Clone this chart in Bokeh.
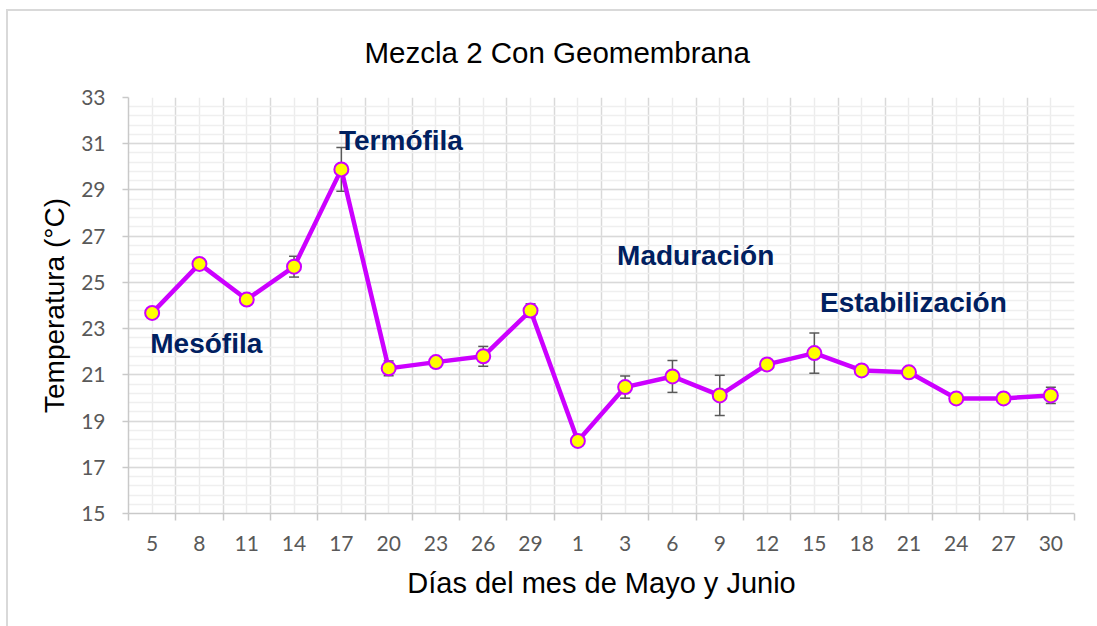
import numpy as np
from bokeh.plotting import figure
from bokeh.models import ColumnDataSource, FixedTicker, Range1d, Whisker, TeeHead
from bokeh.core.properties import value
from bokeh.embed import file_html
from bokeh.resources import INLINE

# ---------------- data ----------------
dias = ["5", "8", "11", "14", "17", "20", "23", "26", "29", "1",
        "3", "6", "9", "12", "15", "18", "21", "24", "27", "30"]
temperatura = [23.68, 25.80, 24.26, 25.68, 29.89, 21.28, 21.55, 21.80, 23.78, 18.14,
               20.47, 20.93, 20.11, 21.45, 21.94, 21.19, 21.11, 19.98, 19.98, 20.11]
error = [0.0, 0.0, 0.0, 0.45, 0.95, 0.32, 0.0, 0.43, 0.29, 0.0,
         0.48, 0.69, 0.87, 0.0, 0.87, 0.0, 0.2, 0.0, 0.0, 0.35]
fases = ["Mesófila", "Termófila", "Maduración", "Estabilización"]
y_ticks = [15, 17, 19, 21, 23, 25, 27, 29, 31, 33]

titulo = "Mezcla 2 Con Geomembrana"
x_label = "Días del mes de Mayo y Junio"
y_label = "Temperatura (°C)"

# ---------------- derived ----------------
n = len(dias)
xc = [i + 0.5 for i in range(n)]          # category centres
bounds = list(range(n + 1))               # category boundaries

src = ColumnDataSource(dict(x=xc, y=temperatura))
ex = [xc[i] for i in range(n) if error[i] > 0]
ey = [temperatura[i] for i in range(n) if error[i] > 0]
ee = [error[i] for i in range(n) if error[i] > 0]
esrc = ColumnDataSource(dict(x=ex,
                             upper=[a + b for a, b in zip(ey, ee)],
                             lower=[a - b for a, b in zip(ey, ee)]))

W, H = 1097, 626
p = figure(width=W, height=H, x_range=Range1d(0, n), y_range=Range1d(15, 33),
           output_backend="svg", toolbar_location=None,
           min_border_left=128, min_border_top=97,
           min_border_right=23, min_border_bottom=113)
p.outline_line_color = None
p.background_fill_color = "white"
p.border_fill_color = None
p.styles = {
    "background": ("linear-gradient(#d9d9d9, #d9d9d9) 6px 9px / 2px 100% no-repeat, "
                   "linear-gradient(#d9d9d9, #d9d9d9) 6px 9px / 100% 2px no-repeat, white"),
}

# title
p.title.text = titulo
p.title.align = "left"
p.title.offset = 236
p.title.text_font = "Liberation Sans"
p.title.text_font_style = "normal"
p.title.text_font_size = "29.5px"
p.title.text_color = "#000000"
p.title.standoff = 58

# x axis
xt = FixedTicker(ticks=xc, minor_ticks=bounds)
xa = p.xaxis[0]
xa.ticker = xt
xa.major_label_overrides = {c: d for c, d in zip(xc, dias)}
xa.major_tick_line_color = None
xa.major_tick_out = 0
xa.major_tick_in = 0
xa.minor_tick_line_color = "#c9c9c9"
xa.minor_tick_line_width = 1.5
xa.minor_tick_out = 7
xa.minor_tick_in = 0
xa.axis_line_color = "#c9c9c9"
xa.axis_line_width = 1.5
xa.major_label_text_font = "Lato"
xa.major_label_text_font_size = "21px"
xa.major_label_text_color = "#595959"
xa.major_label_standoff = 15
xa.axis_label = x_label
xa.axis_label_text_font = "Liberation Sans"
xa.axis_label_text_font_style = "normal"
xa.axis_label_text_font_size = "29px"
xa.axis_label_text_color = "#000000"
xa.axis_label_standoff = 13

# y axis
yt = FixedTicker(ticks=y_ticks,
                 minor_ticks=[float(v) for v in np.round(np.arange(15, 33.01, 0.4), 2)])
ya = p.yaxis[0]
ya.ticker = yt
ya.major_tick_line_color = "#c9c9c9"
ya.major_tick_line_width = 1.5
ya.major_tick_out = 6
ya.major_tick_in = 0
ya.minor_tick_line_color = None
ya.axis_line_color = "#c9c9c9"
ya.axis_line_width = 1.5
ya.major_label_text_font = "Lato"
ya.major_label_text_font_size = "21px"
ya.major_label_text_color = "#595959"
ya.major_label_standoff = 17
ya.axis_label = y_label
ya.axis_label_text_font = "Liberation Sans"
ya.axis_label_text_font_style = "normal"
ya.axis_label_text_font_size = "28px"
ya.axis_label_text_color = "#000000"
ya.axis_label_standoff = 8

# grids
p.xgrid.ticker = xt
p.xgrid.grid_line_color = "#ececec"
p.xgrid.grid_line_width = 1.5
p.xgrid.minor_grid_line_color = "#d9d9d9"
p.xgrid.minor_grid_line_width = 1.5
p.ygrid.ticker = yt
p.ygrid.grid_line_color = "#d9d9d9"
p.ygrid.grid_line_width = 1.5
p.ygrid.minor_grid_line_color = "#efefef"
p.ygrid.minor_grid_line_width = 1.5

# error bars
wh = Whisker(base="x", upper="upper", lower="lower", source=esrc,
             line_color="#595959", line_width=1.5,
             upper_head=TeeHead(size=10, line_color="#595959", line_width=1.5),
             lower_head=TeeHead(size=10, line_color="#595959", line_width=1.5))
p.add_layout(wh)

# series
p.line("x", "y", source=src, line_color="#cc00ff", line_width=4.5)
p.scatter("x", "y", source=src, size=14, fill_color="#ffff00",
          line_color="#cc00ff", line_width=2)

# phase labels
p.text(x=[0.46, 4.45, 10.33, 14.62], y=[22.36, 31.13, 26.16, 24.13], text=fases,
       text_font=value("Liberation Sans"), text_font_style="bold",
       text_font_size="28px", text_color="#002060",
       text_baseline="alphabetic", text_align="left")

open("out.html", "w").write(file_html(p, INLINE))
